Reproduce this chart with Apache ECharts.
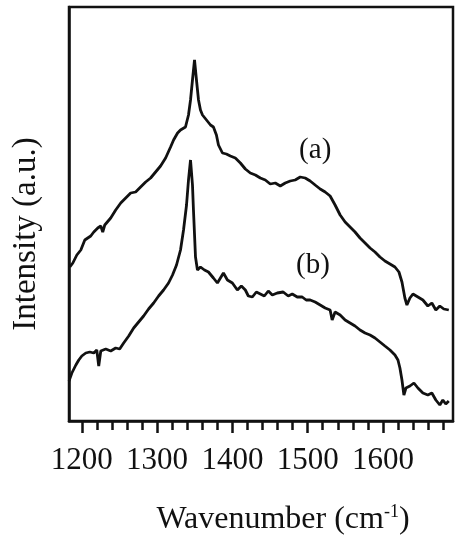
<!DOCTYPE html>
<html><head><meta charset="utf-8">
<script src="https://cdn.jsdelivr.net/npm/echarts@6/dist/echarts.min.js"></script>
<style>html,body{margin:0;padding:0;background:#fff}#c{width:456px;height:544px}</style>
</head><body><div id="c"></div>
<script>
// Raman spectra, wavenumber (cm^-1) vs intensity (a.u.)
const waveA = [1184.1,1188.1,1193.4,1198.7,1204,1207.9,1211.9,1215.9,1221.2,1225.2,1227.8,1230.5,1238.4,1245,1251.7,1258.3,1264.9,1271.5,1278.1,1284.8,1291.4,1298,1304.6,1311.3,1317.9,1321.9,1327.2,1331.1,1337.7,1341.7,1344.4,1347,1349.7,1352.3,1355,1357.6,1360.3,1365.6,1370.9,1374.8,1378.8,1381.5,1386.8,1392,1397.3,1403.9,1410.6,1417.2,1423.8,1430.5,1437.1,1443.7,1450.3,1457,1463.6,1470.2,1476.8,1483.4,1490.1,1496.7,1503.3,1509.9,1516.6,1523.2,1529.8,1536.4,1543.1,1549.7,1556.3,1562.9,1569.5,1576.2,1582.8,1589.4,1596,1602.6,1609.3,1615.9,1621.2,1625.2,1629.1,1631.8,1635.8,1639.8,1646.4,1653,1659.6,1664.9,1670.2,1675.5,1680.8,1687.4];
const intensityA = [154,158,166,171,181,183,185,189,193,195,189,196,203,211,218,223,228,229,234,239,243,249,255,263,274,281,288,291,294,306,321,341,361,341,321,311,306,301,296,294,286,276,268,267,265,263,258,252,248,246,243,241,237,238,235,238,240,241,244,243,240,236,232,229,225,216,206,199,194,189,183,178,173,169,164,160,157,154,149,139,123,116,123,127,124,121,115,118,111,115,112,111];
const waveB = [1183,1186.8,1192.1,1196,1200,1205.3,1210.6,1215.9,1219.9,1222.5,1225.2,1231.8,1238.4,1245,1250.3,1255.6,1262.3,1268.9,1275.5,1282.1,1288.7,1295.4,1302,1308.6,1315.2,1320.5,1325.8,1331.1,1335.1,1339.1,1341.7,1344.4,1347,1348.3,1351,1353.6,1357.6,1362.9,1368.2,1374.8,1380.1,1384.1,1388.1,1393.4,1400,1406.6,1411.9,1417.2,1421.2,1426.5,1431.8,1437.1,1442.4,1447.7,1453,1459.6,1467.5,1474.2,1479.5,1486.1,1492.7,1498,1503.3,1509.9,1516.6,1523.2,1529.8,1532.5,1536.4,1543.1,1549.7,1556.3,1562.9,1569.5,1576.2,1582.8,1589.4,1596,1602.6,1609.3,1615.9,1619.9,1622.5,1625.2,1627.8,1630.5,1635.8,1641.1,1646.4,1653,1659.6,1664.9,1670.2,1675.5,1679.5,1683.4,1687.4];
const intensityB = [40,48,56,61,65,68,69,68,71,55,70,72,70,73,72,78,85,93,99,105,112,118,125,131,138,146,156,171,191,216,241,261,236,211,164,151,154,151,149,143,138,143,148,141,138,131,135,131,125,124,129,127,125,130,126,128,129,125,127,124,124,121,121,119,116,113,111,101,109,106,101,98,95,91,88,86,83,79,75,71,66,61,53,41,26,33,35,38,33,28,26,28,21,16,21,17,20];
const majorTicks = [1200,1300,1400,1500,1600];
const minorTicks = [1220,1240,1260,1280,1320,1340,1360,1380,1420,1440,1460,1480,1520,1540,1560,1580,1620,1640,1660,1680];
const seriesNames = ['(a)','(b)'];
const labelPos = [[1510,271],[1507,156]];

const ink = '#111';
const font = '"Liberation Serif","DejaVu Serif",serif';
const zip = (xs, ys) => xs.map((x,i)=>[x, ys[i]]);

const chart = echarts.init(document.getElementById('c'));
chart.setOption({
  animation:false,
  backgroundColor:'#fff',
  grid:{left:69,right:3,top:7,bottom:123,show:true,borderColor:ink,borderWidth:2.5,backgroundColor:'transparent'},
  xAxis:[{
    type:'value',min:1183,max:1693,
    axisLine:{show:true,lineStyle:{color:ink,width:2.5}},
    axisTick:{show:true,customValues:majorTicks,length:12,inside:false,lineStyle:{color:ink,width:2.5}},
    axisLabel:{customValues:majorTicks,formatter:v=>String(v),color:ink,fontFamily:font,fontSize:31,margin:24},
    splitLine:{show:false},
    name:'Wavenumber (cm{sup|-1})',nameLocation:'middle',nameGap:82,
    nameTextStyle:{color:ink,fontFamily:font,fontSize:32,padding:[0,0,0,44],
      rich:{sup:{fontFamily:font,fontSize:18,color:ink,padding:[0,0,16,0]}}}
  },{
    type:'value',min:1183,max:1693,position:'bottom',
    axisLine:{show:false,onZero:false},
    axisTick:{show:true,customValues:minorTicks,length:9,lineStyle:{color:ink,width:2.5}},
    axisLabel:{show:false},splitLine:{show:false}
  }],
  yAxis:{
    type:'value',min:0,max:414,
    axisLine:{show:true,lineStyle:{color:ink,width:2.5}},
    axisTick:{show:false},axisLabel:{show:false},splitLine:{show:false},
    name:'Intensity (a.u.)',nameLocation:'middle',nameGap:26,nameRotate:90,
    nameTextStyle:{color:ink,fontFamily:font,fontSize:33,padding:[0,40,0,0]}
  },
  series:[{
    name:seriesNames[0],type:'line',data:zip(waveA,intensityA),showSymbol:false,
    lineStyle:{color:ink,width:2.8},
    markPoint:{symbol:'circle',symbolSize:0,data:[{coord:labelPos[0]}],
      label:{show:true,formatter:seriesNames[0],color:ink,fontFamily:font,fontSize:29,position:'inside'}}
  },{
    name:seriesNames[1],type:'line',data:zip(waveB,intensityB),showSymbol:false,
    lineStyle:{color:ink,width:2.8},
    markPoint:{symbol:'circle',symbolSize:0,data:[{coord:labelPos[1]}],
      label:{show:true,formatter:seriesNames[1],color:ink,fontFamily:font,fontSize:29,position:'inside'}}
  }]
});
</script></body></html>
